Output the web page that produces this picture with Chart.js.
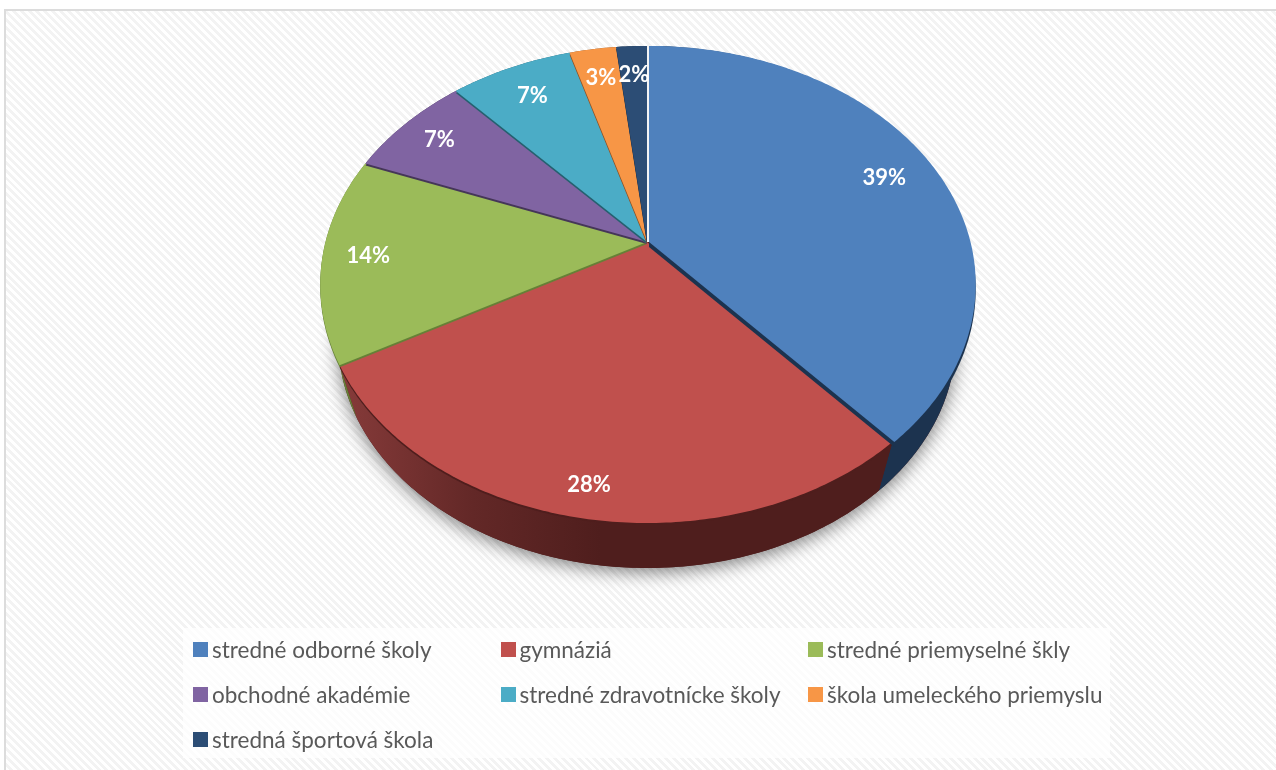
<!DOCTYPE html>
<html>
<head>
<meta charset="utf-8">
<title>Typy stredných škôl</title>
<script src="https://cdn.jsdelivr.net/npm/chart.js@4/dist/chart.umd.min.js"></script>
<style>
    html, body { margin: 0; padding: 0; background: #fff; }
    body { width: 1276px; height: 770px; overflow: hidden; position: relative; }
    #frame {
        position: absolute; left: 4px; top: 9px; width: 1272px; height: 761px;
        box-sizing: border-box;
        border-left: 2px solid #dcdcdc; border-top: 2px solid #dcdcdc;
        background: repeating-linear-gradient(45deg, #ffffff 0, #ffffff 2.8px, #f3f3f3 2.8px, #f3f3f3 5.6px);
    }
    #chart { position: absolute; left: 0; top: 0; width: 1276px; height: 770px; }
    #legend {
        position: absolute; left: 183px; top: 628px; width: 927px; height: 130px;
        background: rgba(255, 255, 255, 0.75);
        font-family: Lato, sans-serif; font-size: 22.5px; color: #595959;
    }
    .item { position: absolute; height: 26px; line-height: 26px; white-space: nowrap; }
    .item i { position: absolute; left: -19px; top: 5px; width: 15px; height: 15px; }
</style>
</head>
<body>
<div id="frame"></div>
<canvas id="chart" width="1276" height="770"></canvas>
<div id="legend"></div>
<script>
// Chart data
const categories = [
    'stredné odborné školy',
    'gymnáziá',
    'stredné priemyselné škly',
    'obchodné akadémie',
    'stredné zdravotnícke školy',
    'škola umeleckého priemyslu',
    'stredná športová škola'
];
const shares = [38.5, 28.4, 14.0, 7.35, 7.2, 2.75, 1.8];
const percentLabels = ['39%', '28%', '14%', '7%', '7%', '3%', '2%'];

// Colors
const topColors = ['#4f81bd', '#c0504d', '#9bbb59', '#8064a2', '#4bacc6', '#f79646', '#2c4d75'];
const sideColors = ['#1c334f', '#4f1e1d', '#668037', '#453658', '#25606f', '#8f5124', '#1a2e46'];

// Perspective of the pie: top face is a circle seen through this projection
const apexX = 647, apexY = 242, halfX = 321.5, halfY = 231, tilt = -0.178;
// The bottom face is the top face scaled towards a vanishing point
const bottomScaleX = 0.945, bottomScaleY = 0.955, vanishY = 1522;
const labelRadius = [0.83, 0.9, 0.86, 0.85, 0.82, 0.83, 0.83];
// Slices are painted back to front so the thin dark edges land on the right neighbour
const paintOrder = [1, 2, 3, 4, 5, 6, 0];
const blueShift = 2;

function project(angle, radius) {
    const u = Math.cos(angle) * radius;
    const v = Math.sin(angle) * radius;
    const w = 1 + tilt * v;
    return { x: apexX + halfX * u / w, y: apexY + halfY * v / w };
}

function toBottom(p) {
    return {
        x: apexX + (p.x - apexX) * bottomScaleX,
        y: vanishY + (p.y - vanishY) * bottomScaleY
    };
}

function rimPoints(start, end) {
    const pts = [];
    const steps = Math.max(8, Math.ceil((end - start) * 80));
    for (let i = 0; i <= steps; i++) {
        pts.push(project(start + (end - start) * i / steps, 1));
    }
    return pts;
}

function tracePolygon(ctx, pts) {
    ctx.beginPath();
    pts.forEach((p, i) => i ? ctx.lineTo(p.x, p.y) : ctx.moveTo(p.x, p.y));
    ctx.closePath();
}

function wedge(arc, dx, dy) {
    const pts = [{ x: apexX, y: apexY }].concat(rimPoints(arc.startAngle, arc.endAngle));
    return pts.map(p => ({ x: p.x + dx, y: p.y + dy }));
}

// Replaces the flat arcs with the 3D pie, using the angles Chart.js worked out
const pie3d = {
    id: 'pie3d',
    beforeDatasetsDraw(chart) {
        const ctx = chart.ctx;
        const arcs = chart.getDatasetMeta(0).data;

        // soft shadow under the whole pie
        ctx.save();
        ctx.shadowColor = 'rgba(0, 0, 0, 0.5)';
        ctx.shadowBlur = 18;
        ctx.shadowOffsetY = 4;
        ctx.fillStyle = '#4f1e1d';
        tracePolygon(ctx, rimPoints(0, Math.PI * 2).map(toBottom));
        ctx.fill();
        ctx.restore();

        // outer walls
        arcs.forEach((arc, i) => {
            const rim = rimPoints(arc.startAngle, arc.endAngle);
            if (i === 1) {
                const grad = ctx.createLinearGradient(345, 0, 600, 0);
                grad.addColorStop(0, '#853a39');
                grad.addColorStop(0.5, '#632827');
                grad.addColorStop(1, sideColors[1]);
                ctx.fillStyle = grad;
            } else {
                ctx.fillStyle = sideColors[i];
            }
            tracePolygon(ctx, rim.concat(rim.map(toBottom).reverse()));
            ctx.fill();
        });

        // top faces with the thin dark edge showing below each
        paintOrder.forEach(i => {
            const arc = arcs[i];
            const shift = i === 0 ? blueShift : 0;
            if (i === 0) {
                // gap left by the pulled out first slice
                const top = project(arc.startAngle, 1);
                ctx.fillStyle = '#f4f4f4';
                ctx.fillRect(top.x, top.y - 1, blueShift, apexY - top.y + 1);
            }
            ctx.fillStyle = sideColors[i];
            tracePolygon(ctx, wedge(arc, shift, i === 0 ? 5 : 2));
            ctx.fill();
            ctx.fillStyle = arc.options.backgroundColor;
            tracePolygon(ctx, wedge(arc, shift, 0));
            ctx.fill();
        });
        return false;
    },
    // beforeDatasetsDraw cancels the datasets hooks, so labels go here
    afterDraw(chart) {
        const ctx = chart.ctx;
        ctx.save();
        ctx.font = 'bold 22px Lato, sans-serif';
        ctx.fillStyle = '#ffffff';
        ctx.textAlign = 'center';
        ctx.textBaseline = 'middle';
        chart.getDatasetMeta(0).data.forEach((arc, i) => {
            const mid = (arc.startAngle + arc.endAngle) / 2;
            const p = project(mid, labelRadius[i]);
            ctx.fillText(percentLabels[i], p.x, p.y);
        });
        ctx.restore();
    }
};

new Chart(document.getElementById('chart').getContext('2d'), {
    type: 'pie',
    data: {
        labels: categories,
        datasets: [{
            data: shares,
            backgroundColor: topColors,
            borderWidth: 0
        }]
    },
    options: {
        responsive: false,
        animation: false,
        plugins: {
            legend: { display: false },
            tooltip: { enabled: false }
        }
    },
    plugins: [pie3d]
});

// Legend, three columns
const legend = document.getElementById('legend');
categories.forEach((name, i) => {
    const item = document.createElement('div');
    item.className = 'item';
    item.style.left = (29 + (i % 3) * 307.5) + 'px';
    item.style.top = (9 + Math.floor(i / 3) * 45) + 'px';
    item.innerHTML = '<i style="background:' + topColors[i] + '"></i>' + name;
    legend.appendChild(item);
});
</script>
</body>
</html>
